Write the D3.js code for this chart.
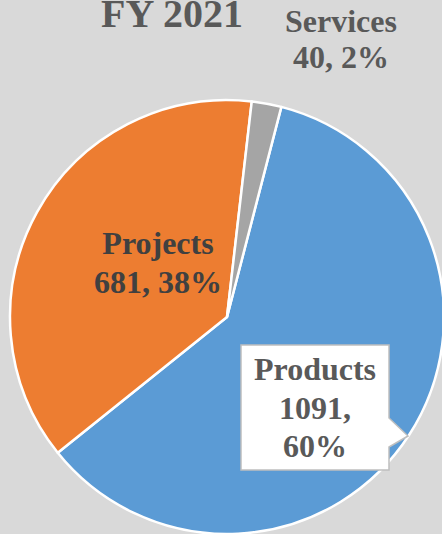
<!DOCTYPE html>
<html>
<head>
<meta charset="utf-8">
<script src="https://cdn.jsdelivr.net/npm/d3@7"></script>
<style>
  html, body { margin: 0; padding: 0; background: #d9d9d9; }
  #chart { width: 442px; height: 534px; overflow: hidden; }
  text { font-family: "Liberation Serif", "Times New Roman", serif; font-weight: bold; }
</style>
</head>
<body>
<div id="chart"></div>
<script>
// data
const categories = ["Products", "Projects", "Services"];
const values = [1091, 681, 40];
const percents = ["60%", "38%", "2%"];
const colors = ["#5b9bd5", "#ed7d31", "#a5a5a5"];

const width = 442, height = 534;
const cx = 227, cy = 317, radius = 217;

const svg = d3.select("#chart").append("svg")
    .attr("width", width)
    .attr("height", height);

svg.append("rect")
    .attr("width", width)
    .attr("height", height)
    .attr("fill", "#d9d9d9");

// pie, first slice starts a bit right of 12 o'clock
const start = 14.5 * Math.PI / 180;
const pie = d3.pie()
    .sort(null)
    .startAngle(start)
    .endAngle(start + 2 * Math.PI);

const arc = d3.arc().innerRadius(0).outerRadius(radius);

const arcs = pie(values);

const g = svg.append("g")
    .attr("transform", "translate(" + cx + "," + cy + ")");

g.selectAll("path")
    .data(arcs)
    .enter()
    .append("path")
    .attr("d", arc)
    .attr("fill", (d, i) => colors[i])
    .attr("stroke", "#ffffff")
    .attr("stroke-width", 2.5)
    .attr("stroke-linejoin", "round");

// title
svg.append("text")
    .attr("x", 172)
    .attr("y", 27)
    .attr("text-anchor", "middle")
    .attr("font-size", 40)
    .attr("fill", "#595959")
    .text("FY 2021");

// labels
function addLabel(lines, x, y, lineH, size, color) {
    const t = svg.append("text")
        .attr("text-anchor", "middle")
        .attr("font-size", size)
        .attr("fill", color);
    lines.forEach((s, k) => {
        t.append("tspan")
            .attr("x", x)
            .attr("y", y + k * lineH)
            .text(s);
    });
}

// Services label, outside the pie
addLabel([categories[2], values[2] + ", " + percents[2]], 341, 32, 36, 32, "#595959");

// Projects label, inside the slice
addLabel([categories[1], values[1] + ", " + percents[1]], 158, 254, 39, 32, "#404040");

// Products callout
const box = {x0: 241, y0: 345, x1: 389, y1: 470};
const tip = [408, 436];
svg.append("path")
    .attr("d", "M" + box.x0 + "," + box.y0 +
        "L" + box.x1 + "," + box.y0 +
        "L" + box.x1 + ",418" +
        "L" + tip[0] + "," + tip[1] +
        "L" + box.x1 + ",447" +
        "L" + box.x1 + "," + box.y1 +
        "L" + box.x0 + "," + box.y1 + "Z")
    .attr("fill", "#ffffff")
    .attr("stroke", "#bfbfbf")
    .attr("stroke-width", 1.5);

addLabel([categories[0], values[0] + ",", percents[0]], 315, 380, 38.5, 32, "#595959");
</script>
</body>
</html>
